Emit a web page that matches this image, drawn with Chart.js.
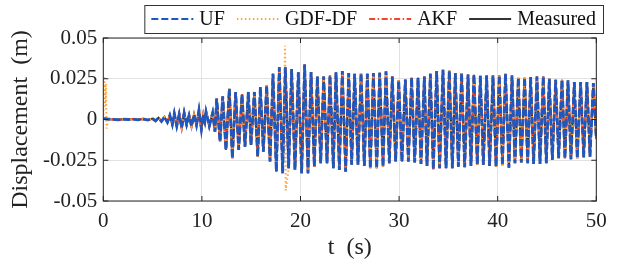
<!DOCTYPE html>
<html>
<head>
<meta charset="utf-8">
<script src="https://cdn.jsdelivr.net/npm/chart.js@4.4.1/dist/chart.umd.min.js"></script>
<style>
  html, body { margin: 0; padding: 0; background: #fff; }
  #wrap { width: 619px; height: 278px; position: relative; }
</style>
</head>
<body>
<div id="wrap"><canvas id="disp-chart"></canvas></div>
<script>
"use strict";

// time of each read-off extremum (s)
var peakTimes = [
  0, 0.5, 1.0, 1.5, 2.0, 2.5, 3.0, 3.5, 4.0, 4.5, 5.0,
  5.3, 5.6, 5.9, 6.2, 6.5, 6.75, 7.0, 7.2, 7.45, 7.7, 7.95, 8.2, 8.45, 8.7, 8.95, 9.2, 9.45, 9.7, 9.95, 10.15, 10.3,
  10.42, 10.75, 11.09, 11.33, 11.5, 11.84, 12.11, 12.44, 12.78, 13.09, 13.42, 13.73, 14.07, 14.37, 14.71, 14.98, 15.32, 15.66, 15.93, 16.23, 16.57, 16.91, 17.21, 17.55, 17.85, 18.19, 18.46, 18.8, 19.1, 19.44, 19.78,
  20.12, 20.42, 20.76, 21.07, 21.4, 21.71, 22.05, 22.35, 22.69, 22.99, 23.33, 23.6, 23.94, 24.24, 24.58, 24.89, 25.19, 25.49, 25.83, 26.14, 26.47, 26.78, 27.08, 27.39, 27.73, 28.03, 28.37, 28.67, 29.01, 29.31, 29.65, 29.96,
  30.29, 30.63, 30.94, 31.27, 31.58, 31.92, 32.22, 32.56, 32.83, 33.17, 33.47, 33.81, 34.11, 34.45, 34.76, 35.09, 35.4, 35.7, 36.01, 36.34, 36.65, 36.99, 37.29, 37.59, 37.93, 38.24, 38.54, 38.88, 39.18, 39.52, 39.83,
  40.16, 40.48, 40.79, 41.14, 41.45, 41.75, 42.09, 42.39, 42.73, 43.04, 43.34, 43.64, 43.98, 44.29, 44.62, 44.93, 45.23, 45.54, 45.88, 46.18, 46.52, 46.82, 47.13, 47.43, 47.77, 48.07, 48.41, 48.72, 49.05, 49.36, 49.7, 50
];

// measured displacement at those times (m)
var measuredDisp = [
  0.0005, 0.0002, 0.0001, -0.0002, 0.0002, 0.0, 0.0003, -0.0002, 0.0004, -0.0003, 0.0005,
  -0.0008, 0.001, -0.0012, 0.0015, -0.0018, 0.0025, -0.003, 0.0037, -0.004, 0.0032, -0.005, 0.004, -0.0032, 0.0025, -0.0042, 0.003, -0.0035, 0.0057, -0.006, 0.003, -0.001,
  0.0047, -0.004, 0.004, -0.0075, 0.0128, -0.0136, 0.0142, -0.0187, 0.0189, -0.0238, 0.0169, -0.0187, 0.0154, -0.0167, 0.0169, -0.0156, 0.0169, -0.0228, 0.0199, -0.0197, 0.0209, -0.0258, 0.028, -0.0319, 0.0321, -0.0329, 0.032, -0.0299, 0.031, -0.031, 0.029,
  -0.033, 0.0337, -0.033, 0.0291, -0.0289, 0.0264, -0.0268, 0.0264, -0.0268, 0.027, -0.0299, 0.029, -0.031, 0.0297, -0.032, 0.0285, -0.0278, 0.028, -0.0278, 0.0285, -0.0285, 0.028, -0.0299, 0.0285, -0.0299, 0.0287, -0.0289, 0.0295, -0.0268, 0.0264, -0.0258, 0.024,
  -0.0258, 0.0245, -0.0258, 0.0256, -0.0264, 0.0256, -0.0272, 0.0264, -0.0285, 0.028, -0.0305, 0.0297, -0.0299, 0.0305, -0.0299, 0.03, -0.0299, 0.0285, -0.0289, 0.0285, -0.0293, 0.0276, -0.0285, 0.0274, -0.0278, 0.0268, -0.0278, 0.027, -0.0285, 0.027, -0.0289,
  0.027, -0.028, 0.028, -0.0295, 0.027, -0.0268, 0.0256, -0.0264, 0.0256, -0.0268, 0.026, -0.0272, 0.0264, -0.0272, 0.0264, -0.0268, 0.025, -0.0248, 0.0244, -0.0238, 0.0244, -0.0238, 0.024, -0.0244, 0.023, -0.0238, 0.023, -0.0232, 0.023, -0.0228, 0.0224, -0.012
];

// UF and AKF estimates lie on top of the measurement at this scale
var ufDisp = measuredDisp;
var akfDisp = measuredDisp;

// GDF-DF spikes that stick out of the band
var gdfSpikeTimes = [0.1, 0.18, 0.25, 0.33, 18.43, 18.5];
var gdfSpikeDisp = [0.0266, 0.008, 0.022, -0.0055, 0.0453, -0.0435];

var xTickLabels = ["0", "10", "20", "30", "40", "50"];
var yTickLabels = ["-0.05", "-0.025", "0", "0.025", "0.05"];

function toPoints(ts, vs) {
  var pts = [];
  for (var i = 0; i < ts.length; i++) pts.push({ x: ts[i], y: vs[i] });
  return pts;
}

var gdfPoints = toPoints(peakTimes, measuredDisp)
  .concat(toPoints(gdfSpikeTimes, gdfSpikeDisp))
  .sort(function (a, b) { return a.x - b.x; });

var SERIF = "'Liberation Serif', 'Times New Roman', serif";
Chart.defaults.font.family = SERIF;
Chart.defaults.color = "#222";

// legend in a box, MATLAB style
var boxLegend = {
  id: "boxLegend",
  afterDraw: function (chart) {
    var ctx = chart.ctx;
    var sets = chart.data.datasets;
    var sampleW = 42, sGap = 6, iGap = 12, padX = 7;
    ctx.save();
    ctx.font = "20px " + SERIF;
    var widths = sets.map(function (d) { return ctx.measureText(d.label).width; });
    var total = padX * 2 + iGap * (sets.length - 1);
    widths.forEach(function (w) { total += sampleW + sGap + w; });
    var right = 603, left = right - total, top = 5, bottom = 33;
    var cy = (top + bottom) / 2;
    ctx.fillStyle = "#fff";
    ctx.fillRect(left, top, total, bottom - top);
    ctx.strokeStyle = "#333";
    ctx.lineWidth = 1;
    ctx.strokeRect(left + 0.5, top + 0.5, total, bottom - top);
    var x = left + padX;
    sets.forEach(function (d, i) {
      ctx.beginPath();
      ctx.setLineDash(d.borderDash || []);
      ctx.strokeStyle = d.borderColor;
      ctx.lineWidth = Math.min(d.borderWidth, 2);
      ctx.moveTo(x, cy);
      ctx.lineTo(x + sampleW, cy);
      ctx.stroke();
      ctx.setLineDash([]);
      x += sampleW + sGap;
      ctx.fillStyle = "#111";
      ctx.textBaseline = "middle";
      ctx.textAlign = "left";
      ctx.fillText(d.label, x, cy + 1);
      x += widths[i] + iGap;
    });
    ctx.restore();
  }
};

// axes box with inward ticks
var axesBox = {
  id: "axesBox",
  afterDraw: function (chart) {
    var ctx = chart.ctx, a = chart.chartArea;
    var xs = chart.scales.x, ys = chart.scales.y;
    var len = 5;
    ctx.save();
    ctx.strokeStyle = "#262626";
    ctx.lineWidth = 1;
    ctx.strokeRect(a.left, a.top, a.right - a.left, a.bottom - a.top);
    ctx.beginPath();
    xs.ticks.forEach(function (t) {
      var px = xs.getPixelForValue(t.value);
      ctx.moveTo(px, a.bottom); ctx.lineTo(px, a.bottom - len);
      ctx.moveTo(px, a.top); ctx.lineTo(px, a.top + len);
    });
    ys.ticks.forEach(function (t) {
      var py = ys.getPixelForValue(t.value);
      ctx.moveTo(a.left, py); ctx.lineTo(a.left + len, py);
      ctx.moveTo(a.right, py); ctx.lineTo(a.right - len, py);
    });
    ctx.stroke();
    ctx.restore();
  }
};

new Chart(document.getElementById("disp-chart"), {
  type: "line",
  data: {
    datasets: [
      {
        label: "UF",
        data: toPoints(peakTimes, ufDisp),
        borderColor: "#1f57c0",
        borderWidth: 2.8,
        borderDash: [7, 3],
        order: 0
      },
      {
        label: "GDF-DF",
        data: gdfPoints,
        borderColor: "#ffa43a",
        borderWidth: 2,
        borderDash: [1.5, 2.5],
        order: 1
      },
      {
        label: "AKF",
        data: toPoints(peakTimes, akfDisp),
        borderColor: "#f0452a",
        borderWidth: 2.2,
        borderDash: [6, 2.5, 1.5, 2.5],
        order: 2
      },
      {
        label: "Measured",
        data: toPoints(peakTimes, measuredDisp),
        borderColor: "#333333",
        borderWidth: 2.2,
        order: 3
      }
    ]
  },
  options: {
    responsive: true,
    maintainAspectRatio: false,
    animation: false,
    events: [],
    elements: { point: { radius: 0 }, line: { tension: 0 } },
    layout: { padding: { left: 0, right: 22.7, top: 38, bottom: 0 } },
    plugins: {
      legend: { display: false },
      tooltip: { enabled: false }
    },
    scales: {
      x: {
        type: "linear",
        min: 0,
        max: 50,
        ticks: {
          stepSize: 10,
          padding: 8,
          maxRotation: 0,
          font: { size: 21 },
          color: "#222",
          callback: function (v, i) { return xTickLabels[i]; }
        },
        grid: { color: "#e2e2e2", drawTicks: false },
        border: { display: false },
        title: {
          display: true,
          text: "t  (s)",
          font: { size: 24 },
          color: "#222",
          padding: { top: 0, bottom: 16 }
        },
        afterFit: function (s) { s.height = 77; }
      },
      y: {
        min: -0.05,
        max: 0.05,
        ticks: {
          stepSize: 0.025,
          padding: 6,
          font: { size: 21 },
          color: "#222",
          callback: function (v, i) { return yTickLabels[i]; }
        },
        grid: { color: "#e2e2e2", drawTicks: false },
        border: { display: false },
        title: {
          display: true,
          text: "Displacement  (m)",
          font: { size: 24 },
          color: "#222",
          padding: { top: 6, bottom: 0 }
        },
        afterFit: function (s) { s.width = 103.3; }
      }
    }
  },
  plugins: [axesBox, boxLegend]
});
</script>
</body>
</html>
